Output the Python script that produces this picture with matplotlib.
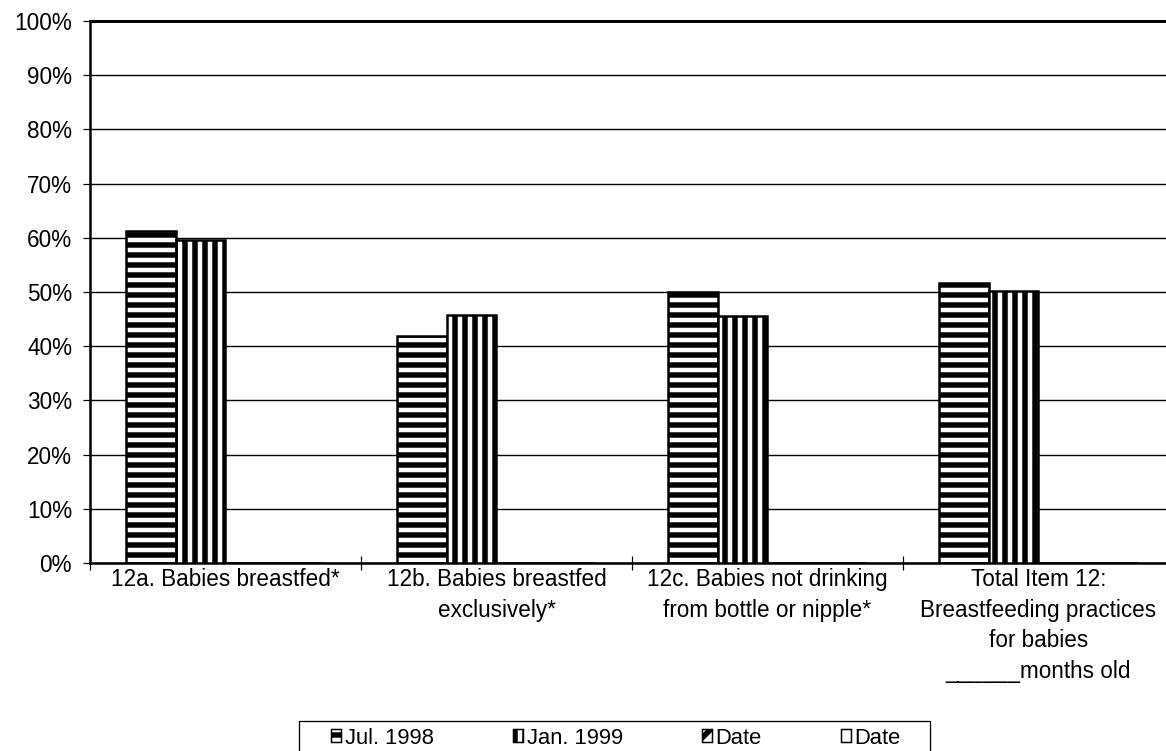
import numpy as np
import matplotlib
matplotlib.use("Agg")
import matplotlib.pyplot as plt
from matplotlib.patches import Rectangle
from matplotlib.ticker import PercentFormatter

# figure at 60 dpi so the hatch tiles give ~10 px stripes; sizes below in pixels
DPI = 60
PX = 72 / DPI  # points per pixel

plt.rcParams['font.family'] = ['Liberation Sans', 'DejaVu Sans']
plt.rcParams['hatch.linewidth'] = 5.5 * PX
plt.rcParams['hatch.color'] = 'black'

categories = [
    "12a. Babies breastfed*",
    "12b. Babies breastfed\nexclusively*",
    "12c. Babies not drinking\nfrom bottle or nipple*",
    "Total Item 12:\nBreastfeeding practices\nfor babies\n______months old",
]
series_names = ["Jul. 1998", "Jan. 1999", "Date", "Date"]
jul_1998 = [0.613, 0.419, 0.500, 0.516]
jan_1999 = [0.596, 0.458, 0.456, 0.502]
date_3 = [0, 0, 0, 0]
date_4 = [0, 0, 0, 0]
hatches = ['-', '|', '/', '']

fig = plt.figure(figsize=(1166 / DPI, 751 / DPI), dpi=DPI)
ax = fig.add_axes([90 / 1166, 188 / 751, 1084 / 1166, 542 / 751])

x = np.arange(len(categories))
w = 0.183
all_series = [jul_1998, jan_1999, date_3, date_4]
for i, (vals, name, h) in enumerate(zip(all_series, series_names, hatches)):
    ax.bar(x + (i - 1.5) * w, vals, w, facecolor='white', edgecolor='black',
           hatch=h, linewidth=2.5 * PX, label=name, zorder=3)

ax.set_xlim(-0.5, 3.5)
ax.set_ylim(0, 1)
ax.set_yticks(np.arange(0, 1.01, 0.1))
ax.yaxis.set_major_formatter(PercentFormatter(1.0, decimals=0))
ax.yaxis.grid(True, color='black', linewidth=1.4 * PX, zorder=0)
ax.set_axisbelow(True)

ax.set_xticks(x)
ax.set_xticklabels(categories, fontsize=22.5 * PX, linespacing=1.43)
ax.tick_params(axis='x', length=0, pad=5 * PX)
ax.set_xticks(np.arange(-0.5, 3.6, 1), minor=True)
ax.tick_params(axis='x', which='minor', direction='inout', length=14 * PX, width=1.2 * PX)
ax.tick_params(axis='y', labelsize=22.5 * PX, length=7 * PX, width=1.2 * PX, pad=11 * PX)

ax.spines['left'].set_linewidth(2.5 * PX)
ax.spines['bottom'].set_linewidth(2.5 * PX)
ax.spines['top'].set_linewidth(3 * PX)
ax.spines['right'].set_visible(False)

leg = fig.legend(loc='center', bbox_to_anchor=(616 / 1166, 13 / 751), ncol=4,
                 fontsize=22 * PX, frameon=False, handlelength=0.47, handleheight=0.5,
                 handletextpad=0.15, columnspacing=3.6, borderpad=0, borderaxespad=0)
for p in leg.get_patches():
    p.set_linewidth(1.5 * PX)

fig.patches.append(Rectangle((299 / 1166, -0.01), 631 / 1166, 30 / 751 + 0.01,
                             transform=fig.transFigure, fill=False,
                             edgecolor='black', linewidth=1.3 * PX))

fig.savefig("out.png", dpi=DPI)
